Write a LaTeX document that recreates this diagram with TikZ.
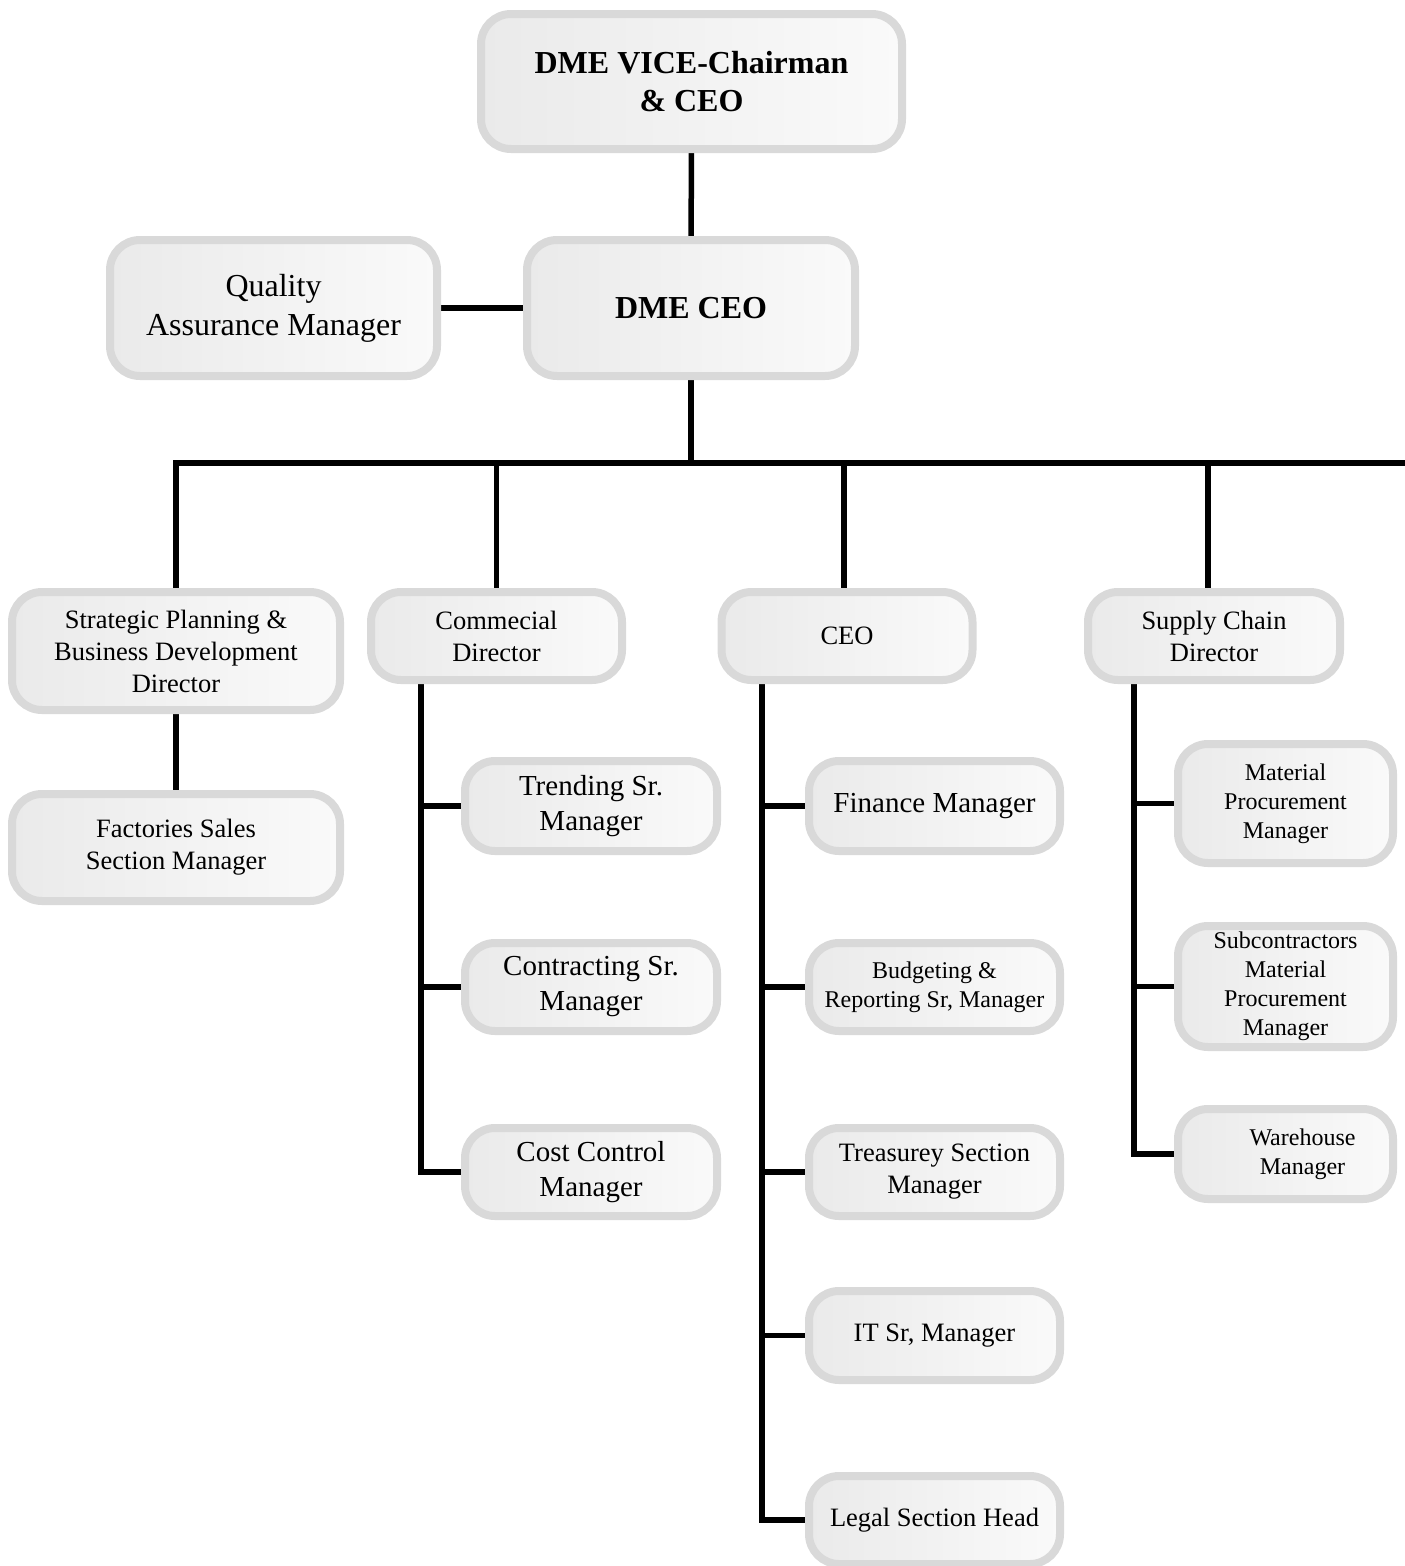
\documentclass[tikz,border=0pt]{standalone}
\usepackage{fontspec}
\setmainfont{Liberation Serif}
\usetikzlibrary{backgrounds}
\definecolor{boxL}{HTML}{EAEAEA}
\definecolor{boxR}{HTML}{FAFAFA}
\definecolor{boxB}{HTML}{D9D9D9}
\tikzset{
  box/.style={draw=boxB, line width=8pt, rounded corners=30pt, left color=boxL, right color=boxR,
    inner sep=0pt, align=center, text=black},
  big/.style={font=\fontsize{32}{39}\selectfont},
  bigb/.style={font=\fontsize{32}{38}\selectfont\bfseries},
  med/.style={font=\fontsize{29}{35}\selectfont},
  nor/.style={font=\fontsize{26.5}{32}\selectfont},
  sml/.style={font=\fontsize{24}{29}\selectfont},
  link/.style={line width=5.5pt, black},
}
\begin{document}
\begin{tikzpicture}[x=1pt,y=-1pt]
\useasboundingbox (0,0) rectangle (1405,1566);
% top
\node[box,bigb,minimum width=421,minimum height=135] (vc) at (691.5,81.5) {DME VICE-Chairman\\\& CEO};
\node[box,bigb,minimum width=328,minimum height=136] (dceo) at (691,308) {DME CEO};
\node[box,big,minimum width=327,minimum height=136] (qa) at (273.5,308) {Quality\\Assurance Manager};
% level 2
\node[box,nor,minimum width=328,minimum height=118] (strat) at (176,651) {Strategic Planning \&\\Business Development\\Director};
\node[box,nor,minimum width=328,minimum height=107] (fact) at (176,847.5) {Factories Sales\\Section Manager};
\node[box,nor,minimum width=251,minimum height=88] (comm) at (496.5,636) {Commecial\\Director};
\node[box,nor,minimum width=251,minimum height=88] (ceo) at (847,636) {CEO};
\node[box,nor,minimum width=252,minimum height=88] (sup) at (1214,636) {Supply Chain\\Director};
% commercial
\node[box,med,minimum width=252,minimum height=90] (trend) at (591,806) {Trending Sr.\\Manager};
\node[box,med,minimum width=252,minimum height=88] (contr) at (591,987) {Contracting Sr.\\Manager};
\node[box,med,minimum width=252,minimum height=88] (cost) at (591,1172) {Cost Control\\Manager};
% ceo
\node[box,med,minimum width=251,minimum height=90] (fin) at (934.5,806) {Finance Manager};
\node[box,sml,minimum width=251,minimum height=88] (budg) at (934.5,987) {Budgeting \&\\Reporting Sr, Manager};
\node[box,nor,minimum width=251,minimum height=88] (treas) at (934.5,1172) {Treasurey Section\\Manager};
\node[box,nor,minimum width=251,minimum height=89] (it) at (934.5,1335.5) {IT Sr, Manager};
\node[box,nor,minimum width=251,minimum height=88] (legal) at (934.5,1520) {Legal Section Head};
% supply
\node[box,sml,minimum width=215,minimum height=119] (mat) at (1285.5,803.5) {Material\\Procurement\\Manager};
\node[box,sml,minimum width=215,minimum height=121] (subc) at (1285.5,986.5) {Subcontractors\\Material\\Procurement\\Manager};
\node[box,sml,minimum width=215,minimum height=90] (ware) at (1285.5,1154) {\hspace*{34pt}\begin{tabular}{@{}c@{}}Warehouse\\[-0.2pt]Manager\end{tabular}};
% connectors
\coordinate (busE) at (1405,463);
\coordinate (cspine) at ([xshift=-75.5pt]comm.south);
\coordinate (espine) at ([xshift=-85pt]ceo.south);
\coordinate (sspine) at ([xshift=-80pt]sup.south);
\begin{pgfonlayer}{background}
\draw[link] (vc) -- (dceo);
\draw[link] (qa.east) -- (dceo.west);
\draw[link] (dceo.south) -- (dceo.south |- busE);
\draw[link] (strat.north) |- (busE);
\draw[link] (comm.north) -- (comm.north |- busE);
\draw[link] ([xshift=-3pt]ceo.north) -- ([xshift=-3pt]ceo.north |- busE);
\draw[link] ([xshift=-6pt]sup.north) -- ([xshift=-6pt]sup.north |- busE);
\draw[link] (strat) -- (fact);
\draw[link] (cspine) |- (cost.west);
\draw[link] (trend.west) -- (trend.west -| cspine);
\draw[link] (contr.west) -- (contr.west -| cspine);
\draw[link] (espine) |- (legal.west);
\draw[link] (fin.west) -- (fin.west -| espine);
\draw[link] (budg.west) -- (budg.west -| espine);
\draw[link] (treas.west) -- (treas.west -| espine);
\draw[link] (it.west) -- (it.west -| espine);
\draw[link] (sspine) |- (ware.west);
\draw[link] (mat.west) -- (mat.west -| sspine);
\draw[link] (subc.west) -- (subc.west -| sspine);
\end{pgfonlayer}
\end{tikzpicture}
\end{document}
